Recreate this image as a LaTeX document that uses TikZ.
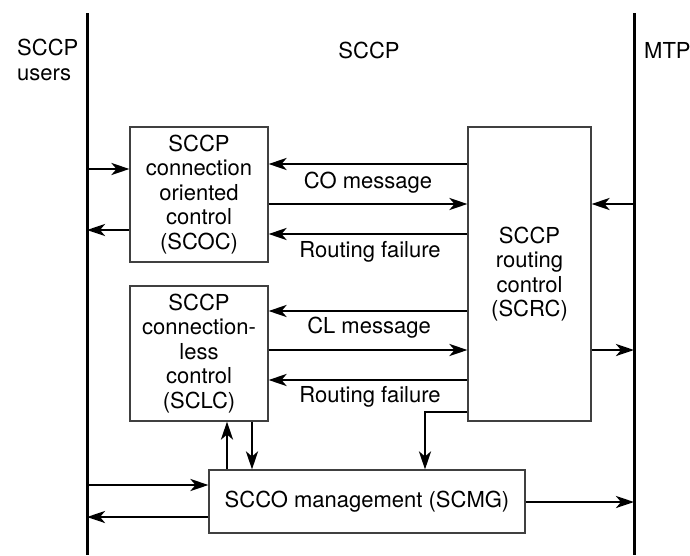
\documentclass[tikz,border=0pt]{standalone}
\usepackage{fontspec}
\setmainfont{TeX Gyre Heros}
\usetikzlibrary{arrows.meta,calc}
\begin{document}
\begin{tikzpicture}[x=1pt,y=-1pt,
  font=\fontsize{22}{24.5}\selectfont,
  layer/.style={line width=3pt,line cap=butt},
  block/.style={draw=black!75,line width=1.1pt,fill=white,align=center,inner sep=0pt},
  arr/.style={line width=2.8pt,-{Stealth[length=18pt,width=12pt,inset=5pt]}},
  lbl/.style={inner sep=0pt,align=center}]
  \useasboundingbox (0,0) rectangle (690,555);

  % layer boundaries
  \coordinate (uT) at (87,13);  \coordinate (uB) at (87,555);
  \coordinate (mT) at (634,13); \coordinate (mB) at (634,555);
  \draw[layer] (uT) -- (uB);
  \draw[layer] (mT) -- (mB);

  % layer names
  \node[lbl,align=left,anchor=north west] (users) at (17,39) {SCCP\\users};
  \node[lbl] (sccp) at (369,50) {SCCP};
  \node[lbl,anchor=west] (mtp) at (644,50) {MTP};

  % functional blocks
  \node[block,minimum width=138pt,minimum height=135pt] (scoc) at (199,194.5)
    {SCCP\\connection\\oriented\\control\\(SCOC)};
  \node[block,minimum width=138pt,minimum height=135pt] (sclc) at (199,353.5)
    {SCCP\\connection-\\less\\control\\(SCLC)};
  \node[block,minimum width=123pt,minimum height=294pt] (scrc) at (529.5,274)
    {SCCP\\routing\\control\\(SCRC)};
  \node[block,minimum width=316pt,minimum height=63pt] (scmg) at (367,501.5)
    {SCCO management (SCMG)};

  % SCOC <-> users
  \draw[arr] (uT |- 0,169) -- (scoc.west |- 0,169);
  \draw[arr] (scoc.west |- 0,230) -- (uT |- 0,230);

  % SCOC <-> SCRC
  \draw[arr] (scrc.west |- 0,164) -- (scoc.east |- 0,164);
  \draw[arr] (scoc.east |- 0,204) -- (scrc.west |- 0,204);
  \draw[arr] (scrc.west |- 0,234) -- (scoc.east |- 0,234);
  \node[lbl] (colbl) at (368,183) {CO message};
  \node[lbl] (rf1) at (370,252) {Routing failure};

  % SCLC <-> SCRC
  \draw[arr] (scrc.west |- 0,311) -- (sclc.east |- 0,311);
  \draw[arr] (sclc.east |- 0,350) -- (scrc.west |- 0,350);
  \draw[arr] (scrc.west |- 0,380) -- (sclc.east |- 0,380);
  \node[lbl] (cllbl) at (369,328) {CL message};
  \node[lbl] (rf2) at (370,397) {Routing failure};

  % SCRC <-> MTP
  \draw[arr] (mT |- 0,204) -- (scrc.east |- 0,204);
  \draw[arr] (scrc.east |- 0,350) -- (mT |- 0,350);

  % SCRC -> SCMG
  \coordinate (bend) at (425,412);
  \draw[arr] (scrc.west |- bend) -- (bend) -- (bend |- scmg.north);

  % SCLC <-> SCMG
  \draw[arr] (scmg.north -| 227,0) -- (sclc.south -| 227,0);
  \draw[arr] (sclc.south -| 252,0) -- (scmg.north -| 252,0);

  % SCMG <-> users, MTP
  \draw[arr] (uT |- 0,485) -- (scmg.west |- 0,485);
  \draw[arr] (scmg.west |- 0,517) -- (uT |- 0,517);
  \draw[arr] (scmg.east |- 0,502) -- (mT |- 0,502);
\end{tikzpicture}
\end{document}
